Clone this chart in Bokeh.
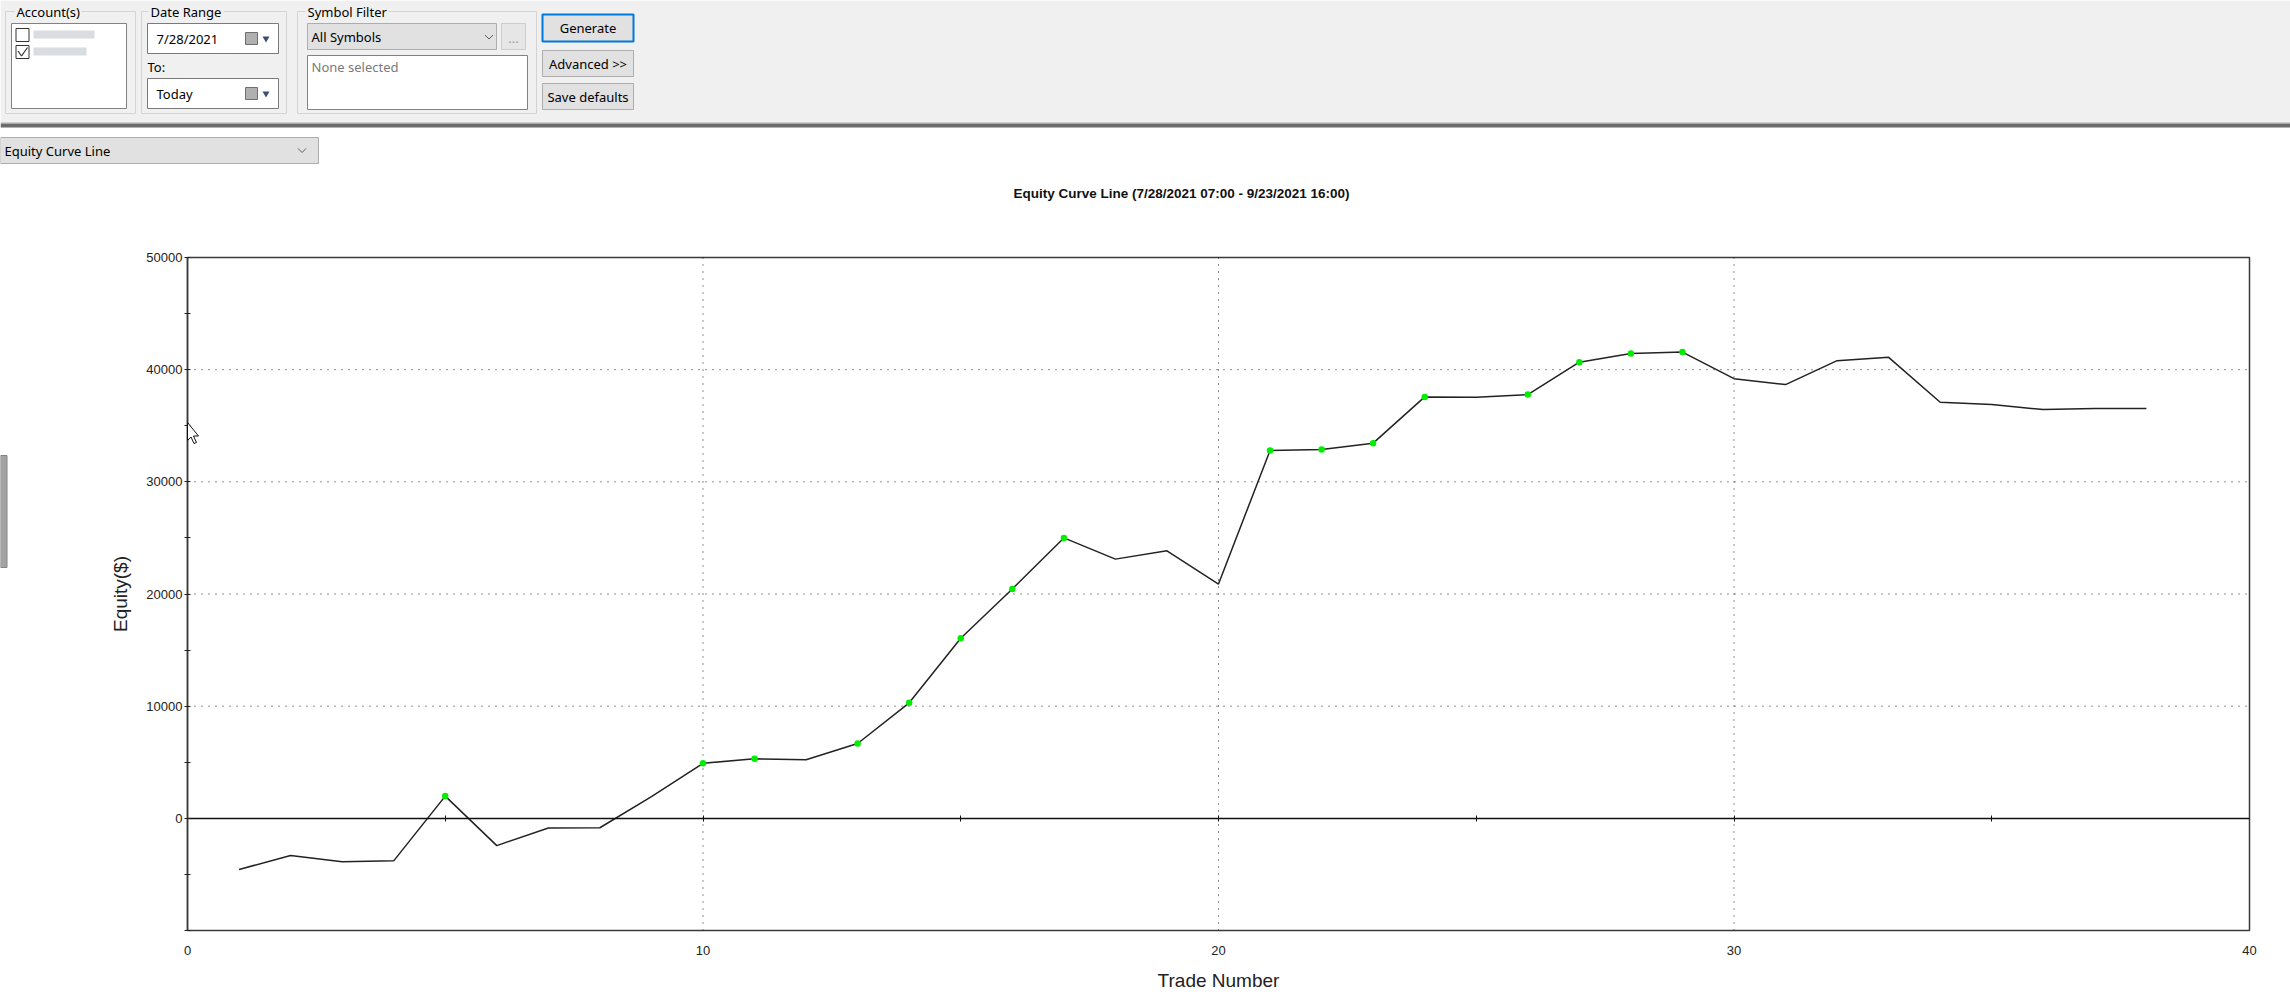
from bokeh.plotting import figure
from bokeh.models import Range1d, LinearAxis, FixedTicker
from bokeh.embed import file_html
from bokeh.resources import INLINE
from bokeh.core.properties import value

# ---------------- data ----------------
trade_numbers = list(range(1, 39))
equity = [-4560, -3310, -3880, -3790, 1980, -2430, -860, -840, 1930, 4900,
          5310, 5220, 6670, 10300, 16050, 20450, 25000, 23110, 23850, 20890,
          32800, 32890, 33450, 37570, 37540, 37780, 40670, 41450, 41570, 39200,
          38670, 40800, 41100, 37100, 36890, 36440, 36530, 36530]
new_high_trades = [5, 10, 11, 13, 14, 15, 16, 17, 21, 22, 23, 24, 26, 27, 28, 29]
x_ticks = [0, 10, 20, 30, 40]
zero_line_ticks = [5, 10, 15, 20, 25, 30, 35]
y_ticks = [-10000, 0, 10000, 20000, 30000, 40000, 50000]
y_minor_ticks = [-5000, 5000, 15000, 25000, 35000, 45000]
chart_title = "Equity Curve Line (7/28/2021 07:00 - 9/23/2021 16:00)"

# ---------------- page geometry (layout only) ----------------
W, H = 2290, 998
FL, FR, FT, FB = 187, 2249, 257, 930          # plot-area edges in page pixels
XMIN, XMAX = x_ticks[0], x_ticks[-1]
YMIN, YMAX = y_ticks[0], y_ticks[-1]
kx = (FR - FL) / (XMAX - XMIN)
ky = (FB - FT) / (YMAX - YMIN)

p = figure(width=W, height=H,
           x_range=Range1d(XMIN - FL / kx, XMAX + (W - FR) / kx),
           y_range=Range1d(YMIN - (H - FB) / ky, YMAX + FT / ky),
           extra_x_ranges={"ux": Range1d(0, W)}, extra_y_ranges={"uy": Range1d(H, 0)},
           output_backend="svg", toolbar_location=None, min_border=0,
           x_axis_location=None, y_axis_location=None)
p.grid.visible = False
p.outline_line_color = None
p.background_fill_color = "white"
p.border_fill_color = "white"

UI_FONT = value("Noto Sans")
UI = dict(x_range_name="ux", y_range_name="uy")


def box(l, t, r, b, fill, line=None, lw=1.0, alpha=1.0):
    p.quad(left=[l], right=[r], top=[t], bottom=[b], fill_color=fill, fill_alpha=alpha,
           line_color=line, line_width=lw, **UI)


def label(x, y, txt, align="left", color="#000000", size="13px", font=UI_FONT, style="normal"):
    p.text(x=[x], y=[y], text=[txt], text_align=align, text_baseline="middle",
           text_color=color, text_font=font, text_font_size=value(size),
           text_font_style=style, **UI)


# ---------------- application toolbar ----------------
box(0, 0, W, 122, "#f0f0f0")
box(0, 122, W, 123.2, "#a8a8a8")
box(0, 123.2, W, 127, "#6b6b6b")

for (l, r) in [(5, 135), (141, 286), (297, 536)]:
    box(l, 11, r, 113, None, "#d4d4d4", 1)
for (l, r) in [(14, 81), (148, 223), (305, 388)]:
    box(l, 8.5, r, 15, "#f0f0f0")
label(16, 11.5, "Account(s)")
label(150, 11.5, "Date Range")
label(307, 11.5, "Symbol Filter")

# accounts list
box(11, 23, 126, 108, "white", "#828282")
box(15.5, 28, 28.5, 41, "white", "#333333")
box(15.5, 45, 28.5, 58, "white", "#333333")
p.line(x=[17.5, 21, 27], y=[50.5, 55.5, 47], line_color="#333333", line_width=1.2, **UI)
box(33, 30, 94, 38, "#c9cdd3", alpha=0.7)
box(33, 47, 86, 55, "#c9cdd3", alpha=0.7)

# date range
for (t, b, txt) in [(23, 53, "7/28/2021"), (78, 108, "Today")]:
    box(147, t, 278, b, "white", "#7a7a7a")
    label(156, (t + b) / 2, txt)
    box(245, (t + b) / 2 - 6, 257, (t + b) / 2 + 6, "#b0b0b0", "#6f6f6f")
    p.scatter(x=[265.5], y=[(t + b) / 2], marker="inverted_triangle", size=7,
              fill_color="#3d4f6e", line_color=None, **UI)
label(147, 66, "To:")

# symbol filter
box(307, 23, 496, 49, "#e1e1e1", "#adadad")
label(311, 36.5, "All Symbols")
p.line(x=[484.5, 488.5, 492.5], y=[34.5, 38.5, 34.5], line_color="#5a5a5a", line_width=1, **UI)
box(501, 23, 525, 49, "#e6e6e6", "#cccccc")
label(513, 38, "...", align="center", color="#9a9a9a")
box(307, 55, 527, 109, "white", "#828282")
label(311, 66, "None selected", color="#7a7a7a")

# buttons
box(542, 14, 633, 41, "#e1e1e1", "#0078d7", 2)
label(587.5, 27.5, "Generate", align="center")
box(542, 50, 633, 76, "#e1e1e1", "#adadad")
label(587.5, 63, "Advanced >>", align="center")
box(542, 83, 633, 109, "#e1e1e1", "#adadad")
label(587.5, 96, "Save defaults", align="center")

# chart type dropdown
box(0, 137, 318, 163, "#e1e1e1", "#adadad")
label(4, 150, "Equity Curve Line")
p.line(x=[297.5, 301.5, 305.5], y=[148, 152, 148], line_color="#5a5a5a", line_width=1, **UI)

# collapsed side tab at the left edge
box(0, 455, 6.5, 567, "#a3a3a3", "#858585")

# chart title
label(1181, 193, chart_title, align="center", color="#111111", size="13.5px",
      font=value("Liberation Sans"), style="bold")

# ---------------- chart ----------------
AX_FONT = "Liberation Sans"

# plot area with its border
p.quad(left=[XMIN], right=[XMAX], bottom=[YMIN], top=[YMAX],
       fill_color="white", line_color="#3a3a3a", line_width=1.5)

# dotted grid at the inner major ticks
gx = [t for t in x_ticks if XMIN < t < XMAX]
gy = [t for t in y_ticks if YMIN < t < YMAX and t != 0]
p.segment(x0=gx, x1=gx, y0=[YMIN] * len(gx), y1=[YMAX] * len(gx),
          line_color="#1e1e1e", line_dash="1 6", line_width=1)
p.segment(x0=[XMIN] * len(gy), x1=[XMAX] * len(gy), y0=gy, y1=gy,
          line_color="#1e1e1e", line_dash="1 6", line_width=1)

# y axis
yax = LinearAxis(fixed_location=XMIN, bounds=(YMIN, YMAX),
                 ticker=FixedTicker(ticks=y_ticks, minor_ticks=y_minor_ticks),
                 major_label_overrides={YMIN: ""},
                 major_tick_in=3, major_tick_out=3, minor_tick_in=3, minor_tick_out=3,
                 major_tick_line_color="#222222", minor_tick_line_color="#222222",
                 axis_line_color="#3a3a3a", axis_line_width=1.5,
                 major_label_standoff=2, major_label_text_font=AX_FONT,
                 major_label_text_font_size="13px", major_label_text_color="#222222",
                 axis_label="Equity($)", axis_label_standoff=12,
                 axis_label_text_font=AX_FONT, axis_label_text_font_size="19px",
                 axis_label_text_font_style="normal", axis_label_text_color="#222222")
p.add_layout(yax, "left")

# x axis (labels under the plot area)
xax = LinearAxis(fixed_location=YMIN, bounds=(XMIN, XMAX),
                 ticker=FixedTicker(ticks=x_ticks),
                 major_tick_in=0, major_tick_out=0, minor_tick_in=0, minor_tick_out=0,
                 axis_line_color=None,
                 major_label_standoff=15, major_label_text_font=AX_FONT,
                 major_label_text_font_size="13px", major_label_text_color="#222222",
                 axis_label="Trade Number", axis_label_standoff=12,
                 axis_label_text_font=AX_FONT, axis_label_text_font_size="19px",
                 axis_label_text_font_style="normal", axis_label_text_color="#222222")
p.add_layout(xax, "below")

# zero line with its tick marks
zero_axis = LinearAxis(fixed_location=0, bounds=(XMIN, XMAX),
                       ticker=FixedTicker(ticks=zero_line_ticks),
                       major_tick_in=3, major_tick_out=3, minor_tick_in=0, minor_tick_out=0,
                       axis_line_color="#111111", axis_line_width=1.5,
                       major_tick_line_color="#111111", major_label_text_color=None,
                       major_label_text_font_size="0px",
                       major_label_overrides={t: "" for t in zero_line_ticks})
p.add_layout(zero_axis, "below")

# equity curve and new-high markers
p.line(x=trade_numbers, y=equity, line_color="#222222", line_width=1.5)
hx = new_high_trades
hy = [equity[trade_numbers.index(t)] for t in new_high_trades]
p.scatter(x=hx, y=hy, size=6.5, fill_color="#00ee00", line_color=None)

# mouse pointer resting on the y axis (drawn last, on top)
p.patch(x=[187, 187, 190.5, 193.5, 196, 193, 198], y=[422, 440, 436.5, 443, 442, 435.5, 435.5],
        fill_color="white", line_color="#111111", line_width=1, level="overlay", **UI)

open("out.html", "w").write(file_html(p, INLINE))
